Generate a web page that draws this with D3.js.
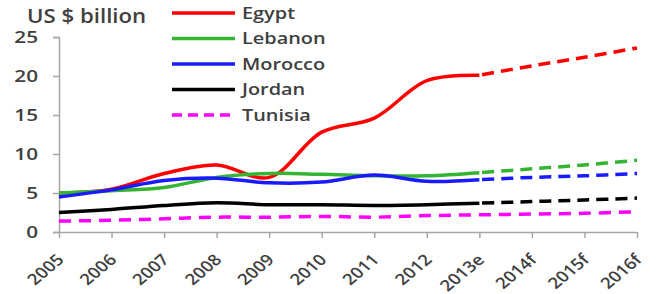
<!DOCTYPE html>
<html>
<head>
<meta charset="utf-8">
<script src="https://cdn.jsdelivr.net/npm/d3@7"></script>
<style>
  body { margin: 0; background: #fff; }
  text { font-family: "Open Sans", "Liberation Sans", sans-serif; fill: #404040; font-weight: 600; }
</style>
</head>
<body>
<div id="chart"></div>
<script>
// years on the category axis
var years = ["2005", "2006", "2007", "2008", "2009", "2010", "2011", "2012", "2013e", "2014f", "2015f", "2016f"];
var yTicks = [0, 5, 10, 15, 20, 25];

// US $ billion
var egypt   = [5.0, 5.5, 7.5, 8.6, 7.0, 12.8, 14.6, 19.4, 20.1, 21.3, 22.4, 23.6];
var lebanon = [5.0, 5.3, 5.7, 7.0, 7.5, 7.4, 7.2, 7.2, 7.6, 8.1, 8.6, 9.2];
var morocco = [4.5, 5.4, 6.6, 6.9, 6.3, 6.4, 7.3, 6.5, 6.7, 7.0, 7.2, 7.5];
var jordan  = [2.5, 2.9, 3.4, 3.75, 3.5, 3.5, 3.4, 3.5, 3.7, 3.9, 4.1, 4.35];
var tunisia = [1.4, 1.5, 1.7, 1.9, 1.9, 2.0, 1.9, 2.1, 2.2, 2.3, 2.4, 2.6];

var series = [
  {name: "Egypt",   values: egypt,   color: "#ff0000", allDashed: false},
  {name: "Lebanon", values: lebanon, color: "#33b533", allDashed: false},
  {name: "Morocco", values: morocco, color: "#1a1aff", allDashed: false},
  {name: "Jordan",  values: jordan,  color: "#000000", allDashed: false},
  {name: "Tunisia", values: tunisia, color: "#ff00ff", allDashed: true}
];
var lastActual = 8; // index of 2013e

var W = 669, H = 294;
var svg = d3.select("#chart").append("svg")
  .attr("width", W).attr("height", H);

var x = d3.scalePoint().domain(years).range([59, 637]);
var y = d3.scaleLinear().domain([0, 25]).range([232, 37]);

// the source picture is stretched sideways, so text gets a horizontal scale
// y axis
var yAxis = svg.append("g").attr("transform", "translate(59,0)")
  .call(d3.axisLeft(y).tickValues(yTicks).tickSize(6).tickPadding(0));
yAxis.select(".domain").attr("stroke", "#a6a6a6").attr("stroke-width", 1.5);
yAxis.selectAll(".tick line").attr("stroke", "#a6a6a6").attr("stroke-width", 1.5);
yAxis.selectAll(".tick text")
  .style("font-size", "17px")
  .attr("fill", "#404040")
  .attr("x", 0)
  .attr("transform", "translate(-21,0) scale(1.22,1)");

// x axis
var xAxis = svg.append("g").attr("transform", "translate(0,232)")
  .call(d3.axisBottom(x).tickSize(6).tickSizeOuter(0));
xAxis.select(".domain").attr("stroke", "#a6a6a6").attr("stroke-width", 1.5);
xAxis.selectAll(".tick line").attr("stroke", "#a6a6a6").attr("stroke-width", 1.5);
xAxis.selectAll(".tick text")
  .style("font-size", "15.5px")
  .attr("fill", "#404040")
  .attr("text-anchor", "end")
  .attr("dy", "0.35em")
  .attr("transform", "translate(1,25) scale(1.2,1) rotate(-45)")
  .attr("x", 0).attr("y", 0);

// lines
var line = d3.line()
  .x(function(d) { return x(d.year); })
  .y(function(d) { return y(d.value); })
  .curve(d3.curveCatmullRom.alpha(0.5));

series.forEach(function(s) {
  var pts = s.values.map(function(v, i) { return {year: years[i], value: v}; });
  if (s.allDashed) {
    svg.append("path").datum(pts)
      .attr("d", line).attr("fill", "none")
      .attr("stroke", s.color).attr("stroke-width", 3.5)
      .attr("stroke-dasharray", "12,8");
  } else {
    svg.append("path").datum(pts.slice(0, lastActual + 1))
      .attr("d", line).attr("fill", "none")
      .attr("stroke", s.color).attr("stroke-width", 3.5);
    svg.append("path").datum(pts.slice(lastActual))
      .attr("d", line).attr("fill", "none")
      .attr("stroke", s.color).attr("stroke-width", 3.5)
      .attr("stroke-dasharray", "12,7")
      .attr("stroke-dashoffset", -3);
  }
});

// unit label
svg.append("text")
  .attr("transform", "translate(27,23) scale(1.17,1)")
  .style("font-size", "19px")
  .text("US $ billion");

// legend
var legend = svg.selectAll("g.legendEntry")
  .data(series).enter()
  .append("g").attr("class", "legendEntry")
  .attr("transform", function(d, i) { return "translate(172," + (13 + i * 25.5) + ")"; });
legend.append("line")
  .attr("x1", 0).attr("x2", 63).attr("y1", 0).attr("y2", 0)
  .attr("stroke", function(d) { return d.color; })
  .attr("stroke-width", 3.5)
  .attr("stroke-dasharray", function(d) { return d.allDashed ? "10,6" : null; });
legend.append("text")
  .attr("transform", "translate(70,0) scale(1.17,1)")
  .attr("dy", "0.35em")
  .style("font-size", "17px")
  .text(function(d) { return d.name; });
</script>
</body>
</html>
